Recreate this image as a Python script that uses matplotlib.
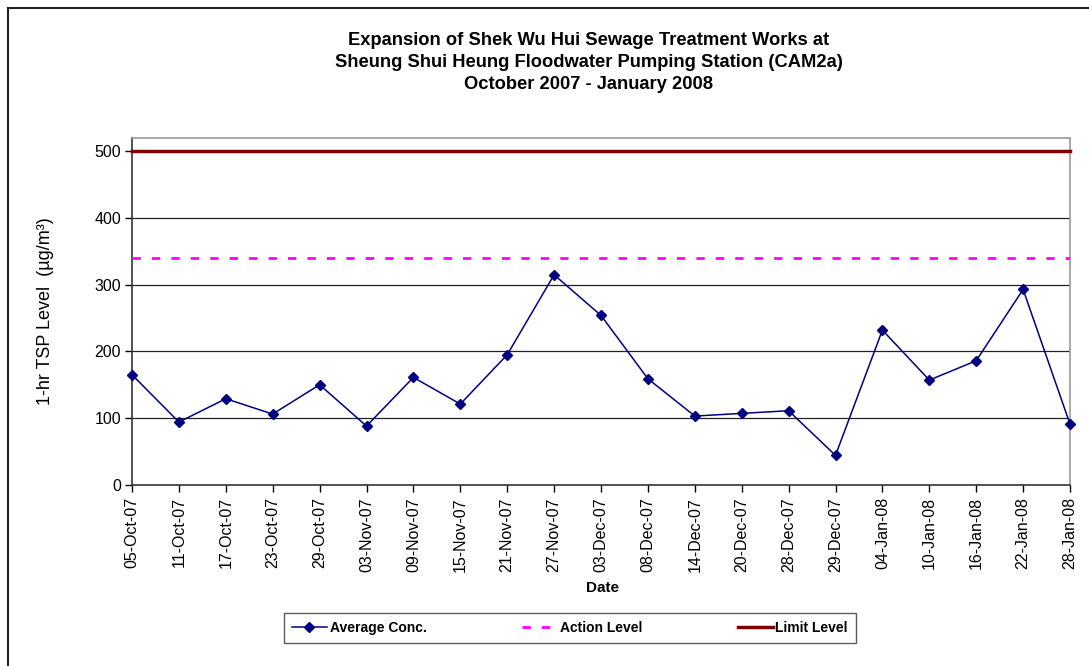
import matplotlib
matplotlib.use('Agg')
import matplotlib.pyplot as plt
from matplotlib.lines import Line2D
import numpy as np

plt.rcParams['font.family'] = ['Liberation Sans', 'DejaVu Sans']

dates = ['05-Oct-07', '11-Oct-07', '17-Oct-07', '23-Oct-07', '29-Oct-07',
         '03-Nov-07', '09-Nov-07', '15-Nov-07', '21-Nov-07', '27-Nov-07',
         '03-Dec-07', '08-Dec-07', '14-Dec-07', '20-Dec-07', '28-Dec-07',
         '29-Dec-07', '04-Jan-08', '10-Jan-08', '16-Jan-08', '22-Jan-08',
         '28-Jan-08']
avg_conc = [165, 94, 129, 106, 150, 88, 161, 121, 195, 315,
            254, 159, 103, 107, 111, 44, 232, 157, 186, 293, 91]
action_level = [340] * len(dates)
limit_level = [500] * len(dates)
y_ticks = [0, 100, 200, 300, 400, 500]

fig = plt.figure(figsize=(10.89, 6.66), dpi=100)
ax = fig.add_axes([132 / 1089, 1 - 484.7 / 666, 938 / 1089, 347.2 / 666])

x = np.arange(len(dates))
ax.plot(x, limit_level, color='#800000', lw=2.5, label='Limit Level', zorder=3, clip_on=False)
ax.plot(x, action_level, color='#ff00ff', lw=2, ls=(0, (3, 4)), label='Action Level', zorder=3)
ax.plot(x, avg_conc, color='#000080', lw=1.1, marker='D', ms=5, label='Average Conc.',
        zorder=4, clip_on=False)

ax.set_xlim(0, len(dates) - 1)
ax.set_ylim(0, 521)
ax.set_yticks(y_ticks)
ax.set_xticks(x)
ax.set_xticklabels(dates, rotation=90, fontsize=11.5)
ax.tick_params(axis='y', labelsize=11.5, length=5, width=1, direction='out', pad=3)
ax.tick_params(axis='x', length=5, width=1, direction='out', pad=4)

for v in y_ticks[1:-1]:
    ax.axhline(v, color='#222222', lw=0.9, zorder=1)

for side in ['top', 'right']:
    ax.spines[side].set_color('#999999')
    ax.spines[side].set_linewidth(1.2)
for side in ['left', 'bottom']:
    ax.spines[side].set_color('#333333')
    ax.spines[side].set_linewidth(1.2)

ax.set_ylabel('1-hr TSP Level  (µg/m³)', fontsize=13)
ax.yaxis.set_label_coords(-0.083, 0.5)
ax.set_xlabel('Date', fontsize=11, fontweight='bold')
ax.xaxis.set_label_coords(0.502, -0.277)

fig.text(589 / 1089, 1 - 32 / 666,
         'Expansion of Shek Wu Hui Sewage Treatment Works at\n'
         'Sheung Shui Heung Floodwater Pumping Station (CAM2a)\n'
         'October 2007 - January 2008',
         ha='center', va='top', fontsize=13.2, fontweight='bold', linespacing=1.38)

handles, labels = ax.get_legend_handles_labels()
order = [2, 1, 0]
leg = fig.legend([handles[i] for i in order], [labels[i] for i in order],
                 loc='center', bbox_to_anchor=(570 / 1089, 1 - 628 / 666), ncol=3,
                 prop={'weight': 'bold', 'size': 10}, frameon=True, fancybox=False,
                 edgecolor='#333333', handlelength=2.5, columnspacing=6.9, borderpad=0.6,
                 handletextpad=0.2)
leg.get_frame().set_linewidth(1)

# outer chart border
fig.add_artist(Line2D([8 / 1089, 8 / 1089], [0, 1 - 8 / 666], transform=fig.transFigure,
                      color='#222222', lw=1.5))
fig.add_artist(Line2D([8 / 1089, 1], [1 - 8 / 666, 1 - 8 / 666], transform=fig.transFigure,
                      color='#222222', lw=1.5))

fig.savefig('out.png', dpi=100)
